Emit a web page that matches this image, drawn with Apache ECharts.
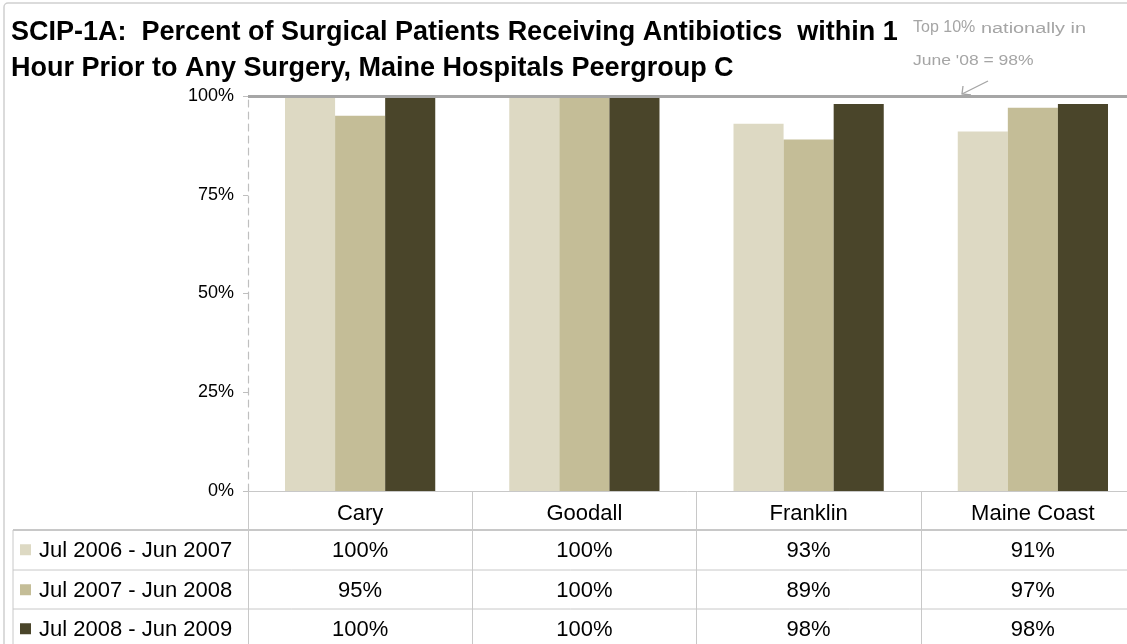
<!DOCTYPE html>
<html><head><meta charset="utf-8">
<script src="https://cdn.jsdelivr.net/npm/echarts@6/dist/echarts.min.js"></script>
<style>html,body{margin:0;padding:0;background:#fff}#c{width:1127px;height:644px}</style>
</head><body><div id="c"></div>
<script>
const categories = ['Cary', 'Goodall', 'Franklin', 'Maine Coast'];
const seriesNames = ['Jul 2006 - Jun 2007', 'Jul 2007 - Jun 2008', 'Jul 2008 - Jun 2009'];
const valuesJul2006 = [100, 100, 93, 91];
const valuesJul2007 = [95, 100, 89, 97];
const valuesJul2008 = [100, 100, 98, 98];
const yTickValues = [0, 25, 50, 75, 100];
const topLineValue = 100;
const titleText = 'SCIP-1A:  Percent of Surgical Patients Receiving Antibiotics  within 1\nHour Prior to Any Surgery, Maine Hospitals Peergroup C';
const noteLine1a = 'Top 10%';
const noteLine1b = 'nationally in';
const noteLine2 = "June '08 = 98%";

const seriesValues = [valuesJul2006, valuesJul2007, valuesJul2008];
const colors = ['#DDD9C3', '#C4BD97', '#4A452A'];
const FONT = '"Liberation Sans", Arial, sans-serif';

const chart = echarts.init(document.getElementById('c'), null, {renderer: 'canvas'});

const option = {
  animation: false,
  backgroundColor: '#fff',
  textStyle: {fontFamily: FONT},
  title: {
    text: titleText,
    left: 6, top: 10,
    textStyle: {fontFamily: FONT, fontSize: 27, fontWeight: 'bold', color: '#000', lineHeight: 36}
  },
  grid: {left: 248, width: 897, top: 96, height: 395, containLabel: false, outerBoundsMode: 'none'},
  xAxis: {
    type: 'category',
    data: categories,
    axisLine: {show: true, lineStyle: {color: '#c8c8c8', width: 1}},
    axisTick: {show: true, length: 160, lineStyle: {color: '#c8c8c8'}},
    axisLabel: {fontFamily: FONT, fontSize: 22, color: '#000', margin: 12}
  },
  yAxis: {
    type: 'value',
    min: 0, max: 100, interval: 25,
    axisLine: {show: true, lineStyle: {color: '#bfbfbf', type: [7, 5], width: 1.2}},
    axisTick: {show: true, length: 5, lineStyle: {color: '#bfbfbf'}},
    splitLine: {show: false},
    axisLabel: {
      fontFamily: FONT, fontSize: 18, color: '#000', margin: 14,
      formatter: v => yTickValues.includes(v) ? v + '%' : ''
    }
  },
  series: seriesNames.map((name, i) => ({
    name: name,
    type: 'bar',
    data: seriesValues[i],
    barGap: '0%',
    barCategoryGap: '33%',
    itemStyle: {color: colors[i]},
    markLine: i === 2 ? {
      symbol: 'none', silent: true, label: {show: false},
      lineStyle: {color: '#a6a6a6', width: 3, type: 'solid'},
      data: [{yAxis: topLineValue}]
    } : undefined,
    z: 2
  }))
};
chart.setOption(option);

// data table under the plot, built from the arrays
function buildTable() {
  const els = [];
  const rowTops = [530, 570, 609];
  const rowH = 39.5;
  const rightEdge = 1160;
  const tableLeft = 13;
  const lineColor = '#c8c8c8';
  rowTops.forEach((y, r) => {
    els.push({type: 'line', shape: {x1: tableLeft, y1: y, x2: rightEdge, y2: y},
      style: {stroke: lineColor, lineWidth: r === 0 ? 2 : 1}, silent: true});
  });
  els.push({type: 'line', shape: {x1: tableLeft, y1: 530, x2: tableLeft, y2: 660},
    style: {stroke: lineColor, lineWidth: 1}, silent: true});
  seriesNames.forEach((name, r) => {
    const cy = rowTops[r] + rowH / 2;
    els.push({type: 'rect', shape: {x: 20, y: cy - 5.5, width: 11, height: 11},
      style: {fill: colors[r]}, silent: true});
    els.push({type: 'text', x: 39, y: cy + 1,
      style: {text: name, font: '22px ' + FONT, fill: '#000', textVerticalAlign: 'middle', textAlign: 'left'}, silent: true});
    categories.forEach((c, ci) => {
      const px = chart.convertToPixel({xAxisIndex: 0}, ci);
      els.push({type: 'text', x: px, y: cy + 1,
        style: {text: seriesValues[r][ci] + '%', font: '22px ' + FONT, fill: '#000', textVerticalAlign: 'middle', textAlign: 'center'}, silent: true});
    });
  });
  // chart frame
  els.push({type: 'rect', shape: {x: 4, y: 3, width: 1160, height: 700, r: 4},
    style: {fill: 'none', stroke: '#d0d0d0', lineWidth: 1.5}, silent: true});
  // annotation
  els.push({type: 'text', x: 913, y: 28,
    style: {text: noteLine1a, font: '16px ' + FONT, fill: '#a5a5a5', textVerticalAlign: 'middle'}, silent: true});
  els.push({type: 'text', x: 981, y: 29, scaleX: 1.42,
    style: {text: noteLine1b, font: '14px ' + FONT, fill: '#a5a5a5', textVerticalAlign: 'middle'}, silent: true});
  els.push({type: 'text', x: 913, y: 61, scaleX: 1.25,
    style: {text: noteLine2, font: '14px ' + FONT, fill: '#a5a5a5', textVerticalAlign: 'middle'}, silent: true});
  els.push({type: 'line', shape: {x1: 988, y1: 81, x2: 962, y2: 94},
    style: {stroke: '#a5a5a5', lineWidth: 1.3}, silent: true});
  els.push({type: 'polyline', shape: {points: [[963, 86], [962, 94], [971, 95]]},
    style: {stroke: '#a5a5a5', lineWidth: 1.3, fill: 'none'}, silent: true});
  chart.setOption({graphic: {elements: els}});
}
buildTable();
</script></body></html>
